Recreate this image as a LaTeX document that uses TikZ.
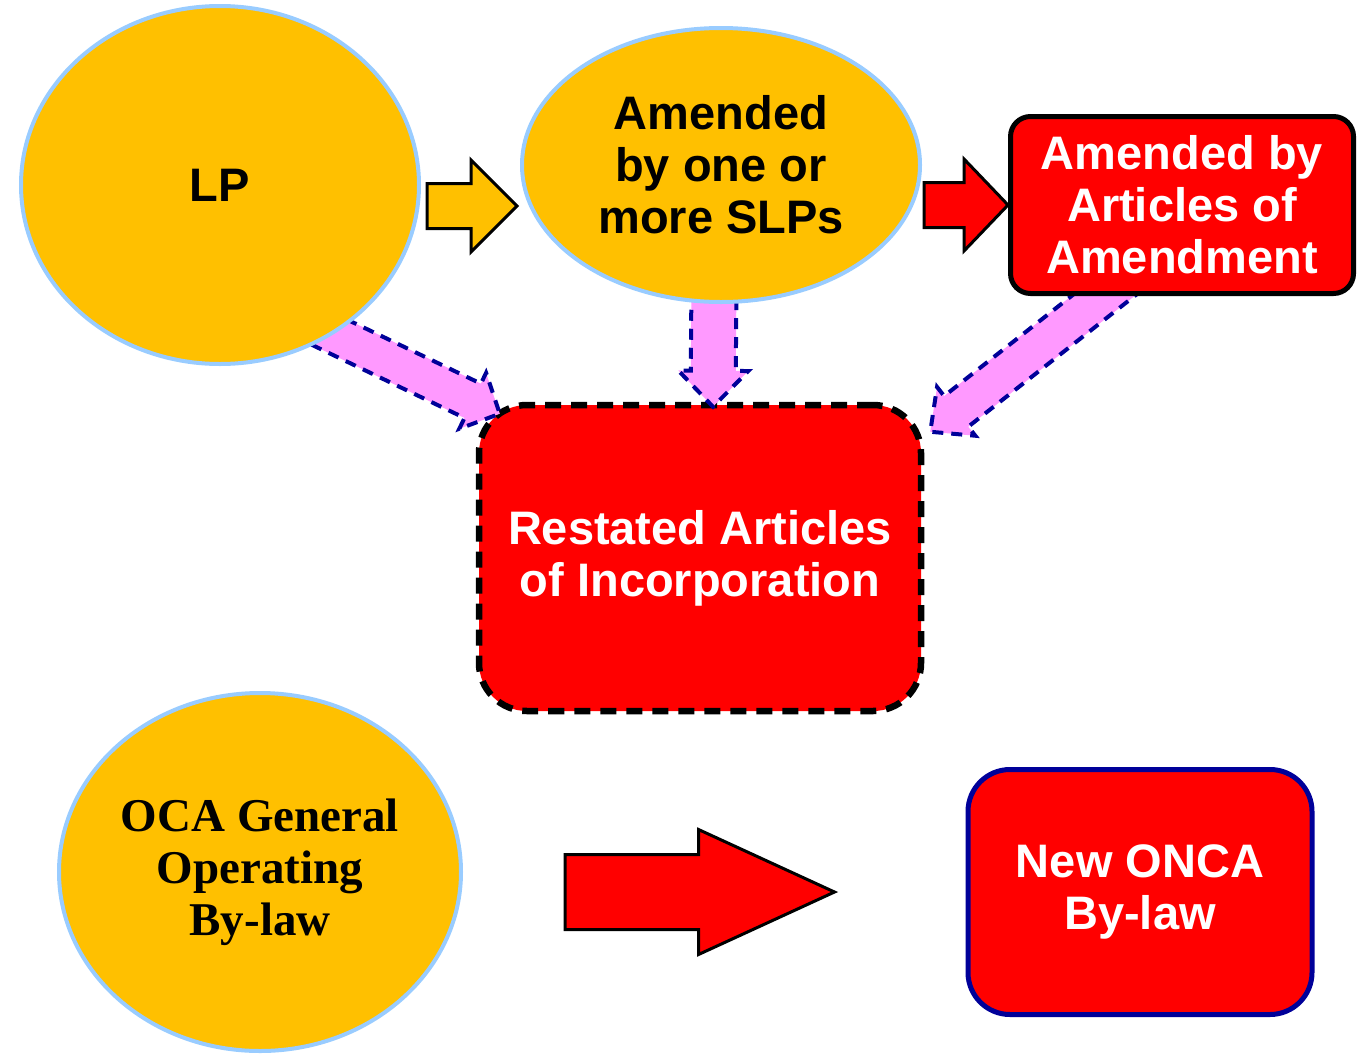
\documentclass[tikz,border=0pt]{standalone}
\usepackage{fontspec}
\setmainfont{Liberation Sans}
\newfontfamily\timesfam{Liberation Serif}
\usetikzlibrary{shapes.geometric,calc}

\definecolor{gold}{HTML}{FFC000}
\definecolor{skyedge}{HTML}{99CCFF}
\definecolor{pinkfill}{HTML}{FF99FF}
\definecolor{navyedge}{HTML}{000099}

\pgfdeclarelayer{back}
\pgfdeclarelayer{mid}
\pgfsetlayers{back,mid,main}

% block arrow: #1 style, #2 tail, #3 tip, #4 shaft half width, #5 head half width, #6 head length
\newcommand{\blockarrow}[6]{%
  \coordinate (bh) at ($(#3)!#6!(#2)$);
  \draw[#1] ($(#2)!#4!90:(#3)$) -- ($(bh)!#4!90:(#3)$) -- ($(bh)!#5!90:(#3)$)
    -- (#3) -- ($(bh)!#5!-90:(#3)$) -- ($(bh)!#4!-90:(#3)$) -- ($(#2)!#4!-90:(#3)$) -- cycle;
}

\tikzset{
  bigtext/.style={font=\bfseries\fontsize{47}{52}\selectfont, align=center},
  goldoval/.style={ellipse, fill=gold, draw=skyedge, line width=4pt, inner sep=0pt, bigtext},
  redbox/.style={rectangle, fill=red, text=white, inner sep=0pt, bigtext},
  pinkarrow/.style={fill=pinkfill, draw=navyedge, line width=4pt, dash pattern=on 11pt off 8pt},
  goldarrow/.style={fill=gold, draw=black, line width=3pt, line join=miter},
  redarrow/.style={fill=red, draw=black, line width=3pt, line join=miter},
}

\begin{document}
\begin{tikzpicture}[x=1pt, y=-1pt]
\useasboundingbox (0,0) rectangle (1357,1058);

% ovals
\node[goldoval, minimum width=398pt, minimum height=358pt] (LP) at (220,185) {LP};
\node[goldoval, minimum width=398pt, minimum height=274pt] (SLP) at (721,165)
  {Amended\\by one or\\more SLPs};
\node[goldoval, minimum width=402pt, minimum height=358pt,
      font=\timesfam\bfseries\fontsize{47}{52}\selectfont] (OCA) at (260,872)
  {OCA General\\Operating\\By-law};

% red boxes
\node[redbox, draw=black, line width=5pt, rounded corners=20pt,
      minimum width=343pt, minimum height=177pt] (AoA) at (1182,205)
  {Amended by\\Articles of\\Amendment};
\node[redbox, draw=navyedge, line width=5pt, rounded corners=42pt,
      minimum width=344pt, minimum height=245pt] (ONCA) at (1140,892)
  {New ONCA\\By-law};
\begin{pgfonlayer}{back}
\node[redbox, draw=black, dash pattern=on 16pt off 10pt, line width=6.5pt, rounded corners=48pt,
      minimum width=442pt, minimum height=306pt] (RAI) at (700,558)
  {Restated Articles\\of Incorporation};
\end{pgfonlayer}

% horizontal block arrows along the top row
\coordinate (ya-s) at ($(LP.east)+(6,21)$);
\coordinate (ya-t) at ($(SLP.west)+(-3,41)$);
\blockarrow{goldarrow}{ya-s}{ya-t}{22.5pt}{46pt}{46pt}

\coordinate (ra-s) at ($(SLP.east)+(2,40)$);
\coordinate (ra-t) at (AoA.west);
\blockarrow{redarrow}{ra-s}{ra-t}{22.5pt}{46pt}{44pt}

% conversion arrow on the bottom row
\coordinate (ba-s) at ($(OCA.east)+(102,20)$);
\coordinate (ba-t) at ($(ONCA.west)+(-131,0)$);
\blockarrow{redarrow}{ba-s}{ba-t}{37.5pt}{62.5pt}{136pt}

% dashed pink arrows feeding the restated articles
\coordinate (p1-s) at ($(LP.center)+(84,135)$);
\coordinate (p1-t) at ($(RAI.north west)+(24,12)$);
\coordinate (p2-s) at ($(SLP.center)+(-7,115)$);
\coordinate (p2-t) at ($(RAI.north)+(13,5)$);
\coordinate (p3-s) at ($(AoA.center)+(-51,69)$);
\coordinate (p3-t) at ($(RAI.north east)+(6,30)$);
\begin{pgfonlayer}{mid}
\blockarrow{pinkarrow}{p1-s}{p1-t}{19pt}{31pt}{30pt}
\blockarrow{pinkarrow}{p2-s}{p2-t}{22.5pt}{35pt}{36pt}
\blockarrow{pinkarrow}{p3-s}{p3-t}{19.5pt}{31pt}{33pt}
\end{pgfonlayer}
\end{tikzpicture}
\end{document}
